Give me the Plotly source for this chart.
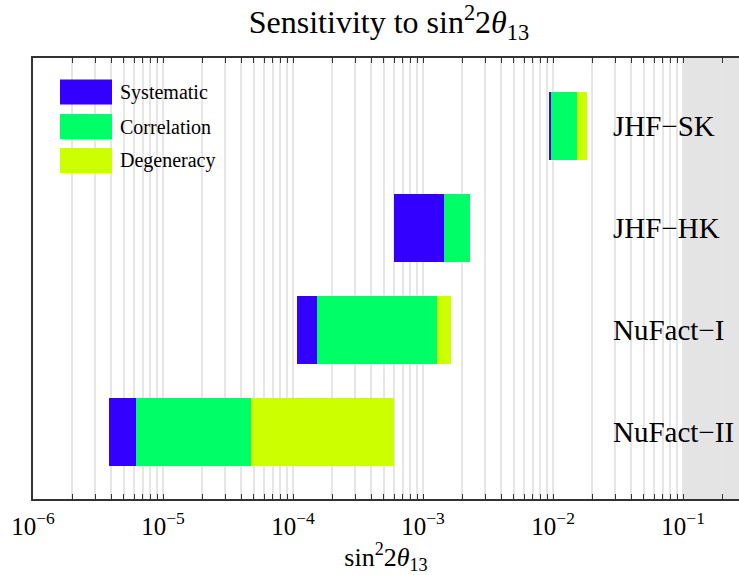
import plotly.graph_objects as go

# ---- data ----
experiments = ["JHF−SK", "JHF−HK", "NuFact−I", "NuFact−II"]
y_pos = [3, 2, 1, 0]
sens_stat = [9.45e-3, 6.0e-4, 1.08e-4, 3.84e-6]      # start of bars
sens_syst = [9.65e-3, 1.46e-3, 1.52e-4, 6.18e-6]     # end of systematic
sens_corr = [1.53e-2, 2.30e-3, 1.27e-3, 4.72e-5]     # end of correlation
sens_deg = [1.83e-2, 2.30e-3, 1.65e-3, 5.93e-4]      # end of degeneracy

series_names = ["Systematic", "Correlation", "Degeneracy"]
series_colors = ["#3300ff", "#00ff66", "#ccff00"]

x_range = [-6, -0.57]

FONT = "Liberation Serif, Times New Roman, serif"

starts = [sens_stat, sens_syst, sens_corr]
ends = [sens_syst, sens_corr, sens_deg]

fig = go.Figure()
for name, col, s, e in zip(series_names, series_colors, starts, ends):
    fig.add_trace(go.Bar(
        y=y_pos, x=[b - a for a, b in zip(s, e)], base=s,
        orientation="h", width=0.667, name=name,
        marker=dict(color=col, line=dict(width=0)), showlegend=False,
    ))

# ticks: majors + minors
tickvals, ticktext = [], []
for p in range(-6, 0):
    for m in range(1, 10):
        if p == -1 and m > 2:
            break
        tickvals.append(m * 10.0 ** p)
        ticktext.append(f"10<sup>−{-p}</sup>" if m == 1 else "")

# grey region beyond 10^-1
frac = (-1 - x_range[0]) / (x_range[1] - x_range[0])
fig.add_shape(type="rect", xref="paper", yref="paper", x0=frac, x1=1, y0=0, y1=1,
              fillcolor="#e4e4e4", line=dict(width=0), layer="between")

# experiment labels
for name, yv in zip(experiments, y_pos):
    fig.add_annotation(text=name, xref="paper", yref="y", x=(611 - 33) / 706, y=yv,
                       xanchor="left", yanchor="middle", showarrow=False,
                       font=dict(family=FONT, size=29, color="black"))

# custom legend
leg_y = [92, 126.5, 160.5]
for name, col, yc in zip(series_names, series_colors, leg_y):
    fig.add_shape(type="rect", xref="paper", yref="paper",
                  x0=(60 - 33) / 706, x1=(112 - 33) / 706,
                  y0=(499 - (yc - 12.5)) / 441, y1=(499 - (yc + 12.5)) / 441,
                  fillcolor=col, line=dict(width=0), layer="above")
    fig.add_annotation(text=name, xref="paper", yref="paper",
                       x=(118 - 33) / 706, y=(499 - yc) / 441,
                       xanchor="left", yanchor="middle", showarrow=False,
                       font=dict(family=FONT, size=20, color="black"))

fig.update_layout(
    width=739, height=575,
    margin=dict(l=33, r=0, t=58, b=76, autoexpand=False),
    plot_bgcolor="white", paper_bgcolor="white",
    barmode="overlay", bargap=0,
    title=dict(text="Sensitivity to sin<sup>2</sup>2<i>θ</i><sub>13</sub>",
               x=389 / 739, xanchor="center", y=1 - 22 / 575, yanchor="middle",
               font=dict(family=FONT, size=32, color="black")),
    xaxis=dict(type="log", range=x_range, tickvals=tickvals, ticktext=ticktext,
               showgrid=True, gridcolor="#e6e6e6", gridwidth=1.5,
               ticks="inside", ticklen=5, tickwidth=1.2, tickcolor="#333",
               showline=True, linecolor="#333", linewidth=1.5, mirror="ticks",
               tickfont=dict(family=FONT, size=25, color="black"),
               title=dict(text="sin<sup>2</sup>2<i>θ</i><sub>13</sub>",
                          font=dict(family=FONT, size=26, color="black"), standoff=0),
               zeroline=False, ticklabelstandoff=4, automargin=False),
    yaxis=dict(range=[-0.66, 3.667], showticklabels=False, ticks="",
               showgrid=False, zeroline=False, showline=True,
               linecolor="#333", linewidth=1.5, automargin=False),
)

fig.write_html("out.html", config={"displayModeBar": False},
               post_script="document.body.style.margin='0';")
